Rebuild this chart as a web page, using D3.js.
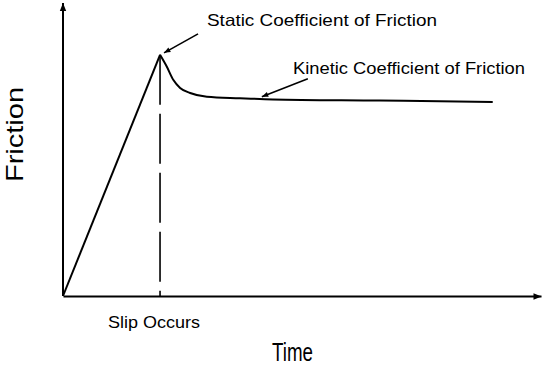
<!DOCTYPE html>
<html>
<head>
<meta charset="utf-8">
<script src="https://cdn.jsdelivr.net/npm/d3@7"></script>
<style>
  html, body { margin: 0; padding: 0; background: #fff; }
  svg { display: block; }
  text { font-family: "Liberation Sans", Arial, sans-serif; fill: #000; }
</style>
</head>
<body>
<svg id="chart" width="544" height="366"></svg>
<script>
// ---- data (arbitrary units: time 0-100, friction 0-100) ----
const riseTime      = [0, 20.3];
const riseFriction  = [0, 82.3];
const decayTime     = [20.3, 21.7, 23.1, 24.5, 26.6, 30.1, 37.0, 43.9, 66.3, 89.9];
const decayFriction = [82.3, 78.3, 73.7, 71.0, 69.3, 68.0, 67.5, 67.1, 66.7, 66.2];
const slipTime = 20.3;
const axisLabels = { x: "Time", y: "Friction" };
const annotationTexts = ["Static Coefficient of Friction", "Kinetic Coefficient of Friction", "Slip Occurs"];
const kineticPointTime = 41.6;
const kineticPointFriction = 68.0;

const svg = d3.select("#chart");
const x = d3.scaleLinear().domain([0, 100]).range([63, 541]);
const y = d3.scaleLinear().domain([0, 100]).range([296, 3]);

// arrow markers
const defs = svg.append("defs");
defs.append("marker").attr("id", "axisArrow")
  .attr("viewBox", "0 0 10 10").attr("refX", 10).attr("refY", 5)
  .attr("markerWidth", 5).attr("markerHeight", 4).attr("markerUnits", "strokeWidth")
  .attr("orient", "auto")
  .append("path").attr("d", "M0,1 L10,5 L0,9 Z").attr("fill", "#000");
defs.append("marker").attr("id", "noteArrow")
  .attr("viewBox", "0 0 10 10").attr("refX", 10).attr("refY", 5)
  .attr("markerWidth", 6).attr("markerHeight", 4).attr("markerUnits", "strokeWidth")
  .attr("orient", "auto")
  .append("path").attr("d", "M0,1 L10,5 L0,9 Z").attr("fill", "#000");

// axes (no ticks, arrows at ends)
const xAxis = svg.append("g").attr("transform", `translate(0,${y(0)})`)
  .call(d3.axisBottom(x).tickValues([]).tickSizeOuter(0));
xAxis.select(".domain").attr("stroke", "#000").attr("stroke-width", 2)
  .attr("marker-end", "url(#axisArrow)");
const yAxis = svg.append("g").attr("transform", `translate(${x(0)},0)`)
  .call(d3.axisLeft(y).tickValues([]).tickSizeOuter(0));
yAxis.select(".domain").attr("stroke", "#000").attr("stroke-width", 2)
  .attr("d", `M0,${y(0)}V${y(100)}`)
  .attr("marker-end", "url(#axisArrow)");

// rising segment
const rise = riseTime.map((t, i) => [t, riseFriction[i]]);
svg.append("path").datum(rise)
  .attr("fill", "none").attr("stroke", "#000").attr("stroke-width", 2)
  .attr("stroke-linejoin", "miter")
  .attr("d", d3.line().x(d => x(d[0])).y(d => y(d[1])));

// decay segment
const decay = decayTime.map((t, i) => [t, decayFriction[i]]);
svg.append("path").datum(decay)
  .attr("fill", "none").attr("stroke", "#000").attr("stroke-width", 2)
  .attr("d", d3.line().curve(d3.curveMonotoneX).x(d => x(d[0])).y(d => y(d[1])));

// dashed slip line
svg.append("line")
  .attr("x1", x(slipTime)).attr("x2", x(slipTime))
  .attr("y1", y(riseFriction[1])).attr("y2", y(0))
  .attr("stroke", "#000").attr("stroke-width", 1.6)
  .attr("stroke-dasharray", "50,9");

// annotation arrows
const peak = [slipTime, riseFriction[1]];
svg.append("line")
  .attr("x1", x(peak[0]) + 38).attr("y1", y(peak[1]) - 21)
  .attr("x2", x(peak[0]) + 4).attr("y2", y(peak[1]) - 2)
  .attr("stroke", "#000").attr("stroke-width", 1.6)
  .attr("marker-end", "url(#noteArrow)");
svg.append("line")
  .attr("x1", x(kineticPointTime) + 46).attr("y1", y(kineticPointFriction) - 18)
  .attr("x2", x(kineticPointTime)).attr("y2", y(kineticPointFriction))
  .attr("stroke", "#000").attr("stroke-width", 1.6)
  .attr("marker-end", "url(#noteArrow)");

// annotation texts
svg.append("text").attr("x", 207).attr("y", 26)
  .attr("font-size", 16.5).attr("textLength", 230).attr("lengthAdjust", "spacingAndGlyphs")
  .text(annotationTexts[0]);
svg.append("text").attr("x", 293).attr("y", 73.5)
  .attr("font-size", 16).attr("textLength", 232).attr("lengthAdjust", "spacingAndGlyphs")
  .text(annotationTexts[1]);
svg.append("text").attr("x", 108).attr("y", 327.5)
  .attr("font-size", 17).attr("textLength", 92).attr("lengthAdjust", "spacingAndGlyphs")
  .text(annotationTexts[2]);

// axis titles
svg.append("text").attr("x", 272).attr("y", 360.5)
  .attr("font-size", 25).attr("textLength", 41).attr("lengthAdjust", "spacingAndGlyphs")
  .text(axisLabels.x);
svg.append("text")
  .attr("transform", "translate(23,182) rotate(-90)")
  .attr("font-size", 24).attr("textLength", 95).attr("lengthAdjust", "spacingAndGlyphs")
  .text(axisLabels.y);
</script>
</body>
</html>
